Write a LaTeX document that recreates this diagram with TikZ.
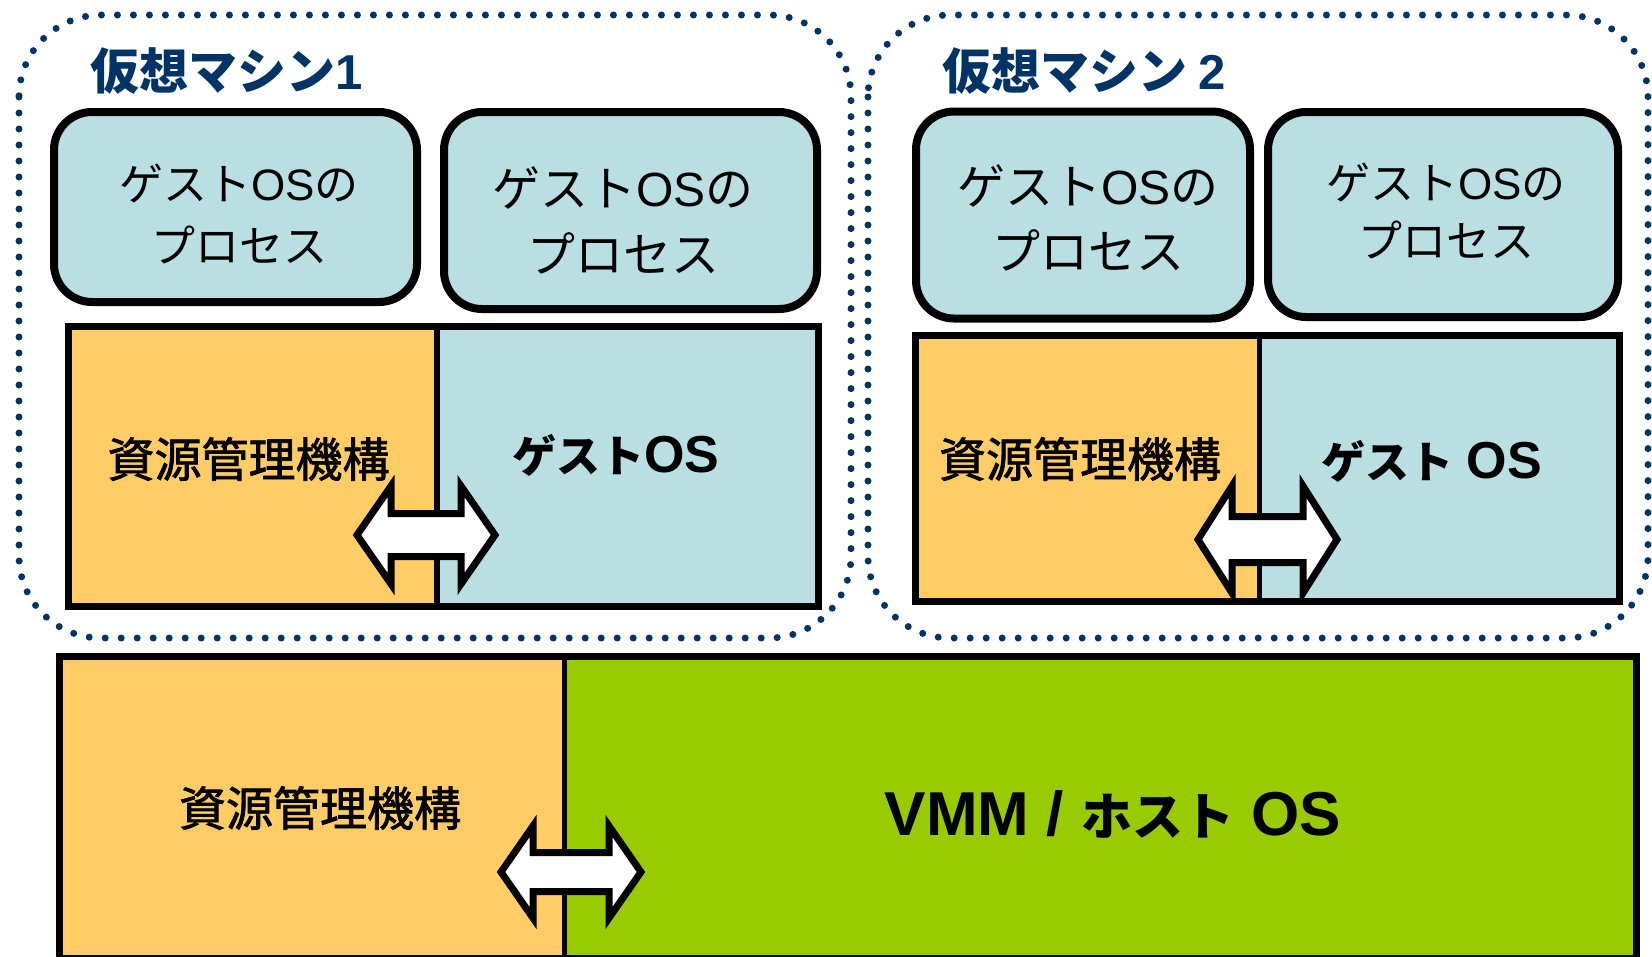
\documentclass[tikz,border=0pt]{standalone}
\usepackage{fontspec}
\newfontfamily\jp{Noto Sans CJK JP}
\newfontfamily\jpm[FakeBold=1.6]{Noto Sans CJK JP}
\newfontfamily\lat{Liberation Sans}
\definecolor{navy}{RGB}{0,51,102}
\definecolor{procblue}{RGB}{185,223,227}
\definecolor{resorange}{RGB}{255,204,102}
\definecolor{hostgreen}{RGB}{153,204,0}

% font helpers: size in pt, baseline skip
\newcommand\fs[2]{\fontsize{#1}{#2}\selectfont}
% white double-headed exchange arrow: cx, cy, half length, head length, head half-height, shaft half-height
\newcommand\xchgarrow[6]{%
  \draw[xchg] ({#1-#3},#2) -- ({#1-#3+#4},{#2-#5}) -- ({#1-#3+#4},{#2-#6})
    -- ({#1+#3-#4},{#2-#6}) -- ({#1+#3-#4},{#2-#5}) -- ({#1+#3},#2)
    -- ({#1+#3-#4},{#2+#5}) -- ({#1+#3-#4},{#2+#6}) -- ({#1-#3+#4},{#2+#6})
    -- ({#1-#3+#4},{#2+#5}) -- cycle;}

\tikzset{
  vmframe/.style={draw=navy, line width=7pt, dash pattern=on 0pt off 16pt,
    line cap=round, rounded corners=82pt},
  procbox/.style={draw=black, line width=8pt, fill=procblue, rounded corners=38pt,
    inner sep=0pt, minimum width=#1},
  area/.style={inner sep=0pt, draw=none, fill=#1},
  frameline/.style={draw=black, line width=7pt},
  divider/.style={draw=black, line width=5.5pt},
  xchg/.style={draw=black, fill=white, line width=7pt, miter limit=10},
  title/.style={anchor=west, inner sep=0pt, text=navy, font=\jp\bfseries\fs{49}{49}},
  proctext/.style={inner sep=0pt, align=center, font=\jp\fs{#1}{#1}},
  restext/.style={inner sep=0pt, font=\jpm\fs{47}{47}},
}

\begin{document}
\begin{tikzpicture}[x=1pt, y=-1pt]
\useasboundingbox (0,0) rectangle (1652,956);

% virtual machine frames
\draw[vmframe] (19,15) rectangle (851,638);
\draw[vmframe] (868,15) rectangle (1648,638);

\node[title] (vm1title) at (90,71) {仮想マシン{\lat 1}};
\node[title] (vm2title) at (942,71) {仮想マシン {\lat 2}};

% guest processes
\node[procbox=363pt, minimum height=190pt] (pA) at (235.5,207) {};
\node[procbox=373pt, minimum height=197pt] (pB) at (630.5,210.5) {};
\node[procbox=334pt, minimum height=207pt] (pC) at (1083,215) {};
\node[procbox=350pt, minimum height=205pt] (pD) at (1443,214.5) {};

\node[proctext=44, font=\jp\fs{44}{62}] (tA) at (239,214) {ゲスト{\lat OS}の\\プロセス};
\node[proctext=48, font=\jp\fs{48}{66}] (tB) at (623,220) {ゲスト{\lat OS}の\\プロセス};
\node[proctext=48, font=\jp\fs{48}{65}] (tC) at (1088,218) {ゲスト{\lat OS}の\\プロセス};
\node[proctext=44, font=\jp\fs{44}{58}] (tD) at (1446,211) {ゲスト{\lat OS}の\\プロセス};

% VM 1: resource manager + guest OS
\node[area=resorange, minimum width=368pt, minimum height=280pt, anchor=north west] (rm1) at (68.5,326.5) {};
\node[area=procblue, minimum width=381.5pt, minimum height=280pt, anchor=north west] (gos1) at (rm1.north east) {};
\draw[divider] (rm1.north east) -- (rm1.south east);
\draw[frameline] (rm1.north west) rectangle (gos1.south east);
\node[restext] (rm1t) at (248.5,459) {資源管理機構};
\node[inner sep=0pt] (gos1t) at (616,455) {{\jp\bfseries\fs{44}{44}ゲスト}{\lat\bfseries\fs{52}{52}OS}};
\xchgarrow{426}{535}{69}{34}{49}{21.5}

% VM 2: resource manager + guest OS
\node[area=resorange, minimum width=343.5pt, minimum height=266pt, anchor=north west] (rm2) at (915.5,335.5) {};
\node[area=procblue, minimum width=359.5pt, minimum height=266pt, anchor=north west] (gos2) at (rm2.north east) {};
\draw[divider] (rm2.north east) -- (rm2.south east);
\draw[frameline] (rm2.north west) rectangle (gos2.south east);
\node[restext] (rm2t) at (1080,459) {資源管理機構};
\node[inner sep=0pt] (gos2t) at (1432,461) {{\jp\bfseries\fs{44}{44}ゲスト}\hspace{13pt}{\lat\bfseries\fs{52}{52}OS}};
\xchgarrow{1267.5}{539.5}{69.5}{34}{53.5}{23}

% host: resource manager + VMM / host OS
\node[area=resorange, minimum width=505pt, minimum height=302pt, anchor=north west] (rmh) at (59,656) {};
\node[area=hostgreen, minimum width=1072pt, minimum height=302pt, anchor=north west] (vmm) at (rmh.north east) {};
\draw[divider] (rmh.north east) -- (rmh.south east);
\draw[frameline] (rmh.north west) rectangle (vmm.south east);
\node[restext] (rmht) at (320,808) {資源管理機構};
\node[inner sep=0pt] (vmmt) at (1113,814) {{\lat\bfseries\fs{62}{62}VMM / }{\jp\bfseries\fs{51}{51}ホスト}{\lat\bfseries\fs{62}{62} OS}};
\xchgarrow{571}{872}{70}{32}{46}{19.5}
\end{tikzpicture}
\end{document}
